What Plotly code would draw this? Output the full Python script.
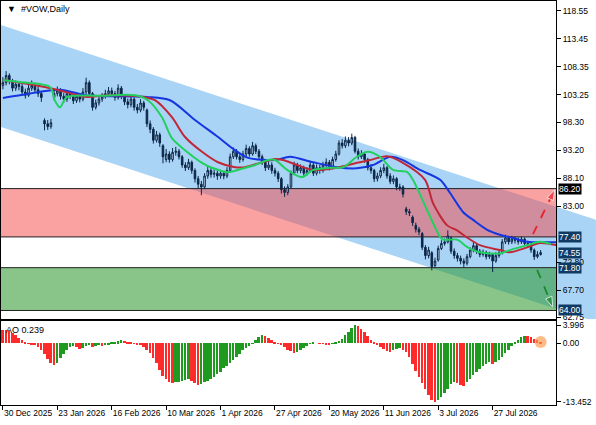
import plotly.graph_objects as go

# --- daily candles, 30 Dec 2025 .. mid Aug 2026 ---
opens = [
    105.0, 105.5, 106.8, 105.8, 104.5, 105.2, 104.8, 103.8, 103.2, 104.5, 105.0, 104.2, 103.5, 98.6, 98.0, 97.5, 102.8,
    103.5, 104.0, 103.0, 102.5, 103.5, 103.0, 102.2, 103.0, 102.5, 103.8, 105.5, 103.5, 101.0, 101.8, 102.5, 103.0, 103.5,
    104.0, 103.5, 102.8, 104.5, 103.0, 102.0, 101.5, 102.5, 101.0, 100.5, 101.8, 100.5, 98.0, 97.0, 95.0, 96.0, 94.0,
    91.5, 92.5, 91.5, 92.8, 93.0, 92.0, 90.5, 90.0, 91.0, 89.5, 88.0, 87.0, 86.5, 88.5, 89.5, 88.8, 89.0,
    88.5, 89.0, 88.5, 89.5, 92.0, 93.0, 92.0, 91.5, 92.5, 93.5, 92.5, 94.0, 93.0, 92.0, 91.0, 90.0, 90.5,
    89.5, 89.0, 88.0, 86.0, 85.5, 86.5, 89.0, 90.5, 89.5, 90.0, 89.0, 89.5, 90.5, 89.0, 90.0, 89.5, 90.5,
    91.0, 90.0, 91.5, 92.5, 94.5, 94.0, 95.0, 94.5, 95.5, 93.0, 92.0, 92.5, 91.5, 90.0, 89.5, 88.0, 88.5,
    89.5, 90.0, 88.5, 87.5, 88.0, 86.5, 86.5, 82.5, 82.0, 81.0, 79.5, 78.8, 78.0, 75.5, 74.0, 74.5, 72.2,
    73.2, 75.3, 76.2, 76.5, 77.2, 74.8, 74.0, 73.5, 73.0, 72.6, 73.8, 75.0, 75.8, 74.8, 74.2, 74.6, 73.8,
    74.2, 73.0, 74.0, 74.5, 76.5, 77.2, 76.5, 77.0, 76.8, 76.5, 77.0, 76.2, 76.0, 75.0, 73.8, 74.2,
]
highs = [
    106.5, 107.6, 107.2, 106.2, 105.9, 105.8, 105.3, 104.4, 105.2, 105.9, 105.5, 104.8, 104.0, 99.0, 98.7, 98.9, 104.2,
    104.8, 104.5, 103.6, 104.1, 104.0, 103.4, 103.7, 103.5, 104.5, 106.4, 105.9, 103.8, 102.4, 103.1, 103.6, 104.2, 104.7,
    104.6, 104.0, 105.2, 104.9, 103.4, 102.6, 103.1, 102.8, 101.6, 102.5, 102.2, 100.8, 98.6, 97.4, 96.7, 96.4, 94.3,
    93.4, 93.0, 93.6, 93.8, 93.4, 92.3, 91.0, 91.6, 91.3, 89.9, 88.5, 87.6, 89.0, 90.2, 90.0, 89.7, 89.5,
    89.6, 89.4, 90.1, 92.6, 93.7, 93.4, 92.5, 93.1, 94.2, 93.9, 94.7, 94.4, 93.4, 92.4, 91.5, 91.2, 91.0,
    90.0, 89.4, 88.3, 86.6, 87.0, 89.5, 91.1, 90.9, 90.6, 90.4, 90.1, 91.1, 90.9, 90.6, 90.5, 91.1, 91.7,
    91.4, 92.0, 93.1, 95.0, 95.2, 95.7, 95.6, 96.2, 95.8, 93.5, 93.2, 92.9, 91.8, 90.6, 89.8, 89.1, 90.1,
    90.7, 90.3, 89.0, 88.6, 88.3, 87.1, 86.8, 82.9, 82.5, 81.3, 80.0, 79.2, 78.3, 75.9, 75.6, 74.8, 73.6,
    75.8, 76.8, 77.1, 78.6, 77.5, 75.3, 74.5, 74.0, 73.5, 74.3, 75.5, 76.4, 76.1, 75.2, 75.1, 74.9, 74.7,
    74.5, 74.6, 75.1, 77.0, 77.8, 77.6, 77.6, 77.5, 77.3, 77.5, 77.3, 76.7, 76.3, 75.3, 74.8, 75.0,
]
lows = [
    104.3, 105.0, 105.2, 103.9, 104.0, 104.1, 103.2, 102.6, 102.9, 104.0, 103.6, 102.9, 102.0, 96.8, 96.9, 97.1, 102.3,
    103.0, 102.4, 101.8, 102.0, 102.5, 101.6, 101.8, 101.9, 102.1, 103.4, 103.0, 100.4, 100.6, 101.3, 102.0, 102.6, 103.0,
    102.9, 102.2, 102.4, 102.5, 101.4, 100.8, 101.0, 100.4, 99.9, 100.1, 100.4, 97.4, 96.3, 94.4, 94.6, 93.8, 90.8,
    91.0, 90.9, 91.1, 92.2, 91.5, 90.0, 89.4, 89.6, 88.9, 87.3, 86.3, 85.0, 86.1, 88.0, 88.2, 88.2, 87.8,
    88.0, 87.9, 88.1, 89.2, 91.6, 91.5, 90.9, 91.1, 92.1, 92.0, 92.2, 92.5, 91.5, 90.5, 89.4, 89.6, 88.9,
    88.4, 87.4, 85.3, 84.7, 85.0, 86.2, 88.7, 89.0, 89.0, 88.5, 88.6, 89.1, 88.5, 88.6, 88.9, 89.1, 90.1,
    89.5, 89.7, 91.1, 92.2, 93.5, 93.6, 93.9, 94.1, 92.6, 91.5, 91.6, 90.9, 89.5, 88.9, 87.4, 87.5, 88.1,
    89.0, 88.0, 87.0, 87.0, 85.9, 85.8, 84.6, 81.4, 81.2, 79.4, 78.2, 77.7, 75.0, 73.3, 73.5, 71.3, 71.8,
    72.9, 75.0, 75.8, 76.2, 74.3, 73.4, 72.9, 72.4, 71.9, 72.2, 73.5, 74.6, 74.3, 73.7, 73.8, 73.3, 73.4,
    71.0, 72.7, 73.6, 74.2, 76.1, 76.0, 76.1, 76.2, 76.0, 76.1, 75.8, 75.5, 74.5, 73.2, 73.5, 74.0,
]
closes = [
    105.5, 106.8, 105.8, 104.5, 105.2, 104.8, 103.8, 103.2, 104.5, 105.0, 104.2, 103.5, 102.8, 98.0, 97.5, 98.2, 103.5,
    104.0, 103.0, 102.5, 103.5, 103.0, 102.2, 103.0, 102.5, 103.8, 105.5, 103.5, 101.0, 101.8, 102.5, 103.0, 103.5, 104.0,
    103.5, 102.8, 104.5, 103.0, 102.0, 101.5, 102.5, 101.0, 100.5, 101.8, 101.0, 98.0, 97.0, 95.0, 96.0, 94.5, 92.0,
    92.5, 91.5, 92.8, 93.0, 92.0, 90.5, 90.0, 91.0, 89.5, 88.0, 87.0, 86.5, 88.5, 89.5, 88.8, 89.0, 88.5,
    89.0, 88.5, 89.5, 92.0, 93.0, 92.0, 91.5, 92.5, 93.5, 92.5, 94.0, 93.0, 92.0, 91.0, 90.0, 90.5, 89.5,
    89.0, 88.0, 86.0, 85.5, 86.5, 89.0, 90.5, 89.5, 90.0, 89.0, 89.5, 90.5, 89.0, 90.0, 89.5, 90.5, 91.0,
    90.0, 91.5, 92.5, 94.5, 94.0, 95.0, 94.5, 95.5, 93.0, 92.0, 92.5, 91.5, 90.0, 89.5, 88.0, 88.5, 89.5,
    90.0, 88.5, 87.5, 88.0, 86.5, 86.3, 85.2, 82.0, 81.8, 80.0, 78.8, 78.3, 75.5, 74.0, 75.0, 72.0, 73.0,
    75.3, 76.2, 76.5, 77.6, 74.8, 74.0, 73.5, 73.0, 72.6, 73.8, 75.0, 75.8, 74.8, 74.2, 74.6, 73.8, 74.2,
    73.0, 74.0, 74.5, 76.5, 77.2, 76.5, 77.0, 76.8, 76.5, 77.0, 76.2, 76.0, 75.0, 73.8, 74.2, 74.55,
]

# Awesome Oscillator per bar
ao_values = [
    3.0, 2.9, 2.7, 2.3, 1.8, 1.2, 0.6, 0.1, -0.2, -0.4, -0.5, -0.9, -1.6, -2.6, -3.6, -4.5, -5.0,
    -4.6, -3.5, -2.4, -1.5, -1.0, -0.6, -0.9, -1.3, -1.2, -0.7, -0.5, -0.8, -0.6, -0.4, -0.7, -0.5, -0.3,
    0.1, 0.3, 0.4, 0.6, 0.5, 0.3, 0.1, -0.1, -0.3, -0.5, -0.8, -1.5, -2.3, -3.4, -4.6, -6.2, -7.6, -8.3, -8.8, -9.2,
    -9.0, -8.8, -8.6, -8.4, -8.3, -8.6, -9.1, -9.5,
    -9.3, -9.0, -8.6, -8.2, -7.7, -7.1, -6.5, -5.8, -5.2, -4.5, -3.8, -3.1, -2.4, -1.7, -1.1, -0.6, -0.1,
    0.6, 1.3, 1.9, 1.7, 1.2, 0.7, 0.3, -0.1, -0.5, -1.0, -1.5, -1.9, -2.3, -2.1, -1.6, -1.1, -0.6, -0.2,
    0.1, 0.0, -0.1, -0.2, -0.3, -0.35, -0.2, 0.1, 0.5, 1.0, 1.8, 2.6, 3.4, 3.996, 3.8, 3.2, 2.4, 1.6,
    0.8, 0.2, -0.4, -0.9, -1.4, -1.9, -2.0, -1.7, -1.4, -1.2,
    -1.5, -2.0, -3.2, -4.8, -6.3, -7.7, -9.2, -10.6, -11.8, -12.9, -13.452,
    -13.1, -12.4, -11.4, -10.4, -9.4, -9.0, -9.2, -9.5, -9.8,
    -9.0, -8.2, -7.4, -6.6, -5.9, -5.3, -4.7, -4.3, -4.7,
    -4.4, -3.9, -3.1, -2.3, -1.5, -0.6, 0.2, 0.8, 1.3, 1.6, 1.5, 1.3, 1.0, 0.6, 0.239,
]

# Alligator lines (already shifted forward), sampled along the chart
jaw_x = [0, 5.3, 17.8, 26, 45, 52.2, 60, 67.2, 72.5, 76.6, 85, 89.7, 96.9, 104.4, 110.6, 115.6, 121, 125,
         130.3, 136.6, 139.7, 143.8, 146.9, 151.3, 155.3, 159.4, 163.8, 176]
jaw_y = [102.7, 103.2, 104.2, 103.2, 102.9, 102.3, 98.7, 95.6, 93.2, 91.8, 91.4, 92.0, 91.0, 90.1, 89.9, 90.5, 92.0, 91.4,
         89.6, 87.8, 85.4, 81.9, 80.5, 78.7, 77.8, 77.2, 76.5, 76.5]
teeth_x = [0, 9.4, 16.9, 26.2, 32.5, 43.8, 47.5, 52.8, 56.9, 62.2, 67.2, 72.5, 75.6, 81, 85, 87.5, 91.9, 96.9,
           104.4, 110.6, 114.7, 120, 125, 131.9, 134.4, 138.8, 141.9, 145, 149, 155.3, 158.4, 163.8, 167.8, 173]
teeth_y = [106.0, 105.1, 104.2, 102.9, 103.2, 102.9, 102.3, 99.2, 95.6, 92.9, 91.0, 90.1, 90.1, 91.0, 91.6, 91.4, 90.5, 89.6,
           90.0, 90.9, 91.4, 92.1, 90.9, 87.8, 83.5, 79.5, 78.6, 77.3, 75.9, 75.0, 74.6, 75.5, 76.3, 75.9]
lips_x = [0, 5.3, 14.7, 16.2, 17.8, 20, 30.3, 41.3, 45.3, 49.7, 52.8, 56.9, 62.2, 65.3, 70.3, 74.7, 78.8, 82.8, 85,
          88.8, 93.4, 96.9, 102.2, 106.3, 110.6, 114, 117.8, 121.9, 126.3, 128.1, 132.5, 136.6, 137.5, 141.9, 145,
          149, 155.3, 158.4, 163.8, 167.8, 171.2]
lips_y = [106.0, 105.6, 104.7, 102.3, 101.0, 102.9, 103.1, 103.2, 102.3, 99.2, 95.4, 93.2, 90.9, 90.0, 89.2, 89.8, 90.5,
          91.4, 91.4, 89.6, 88.3, 89.6, 90.0, 90.1, 92.0, 92.9, 92.0, 89.6, 89.2, 87.8, 82.3, 77.4, 76.9, 76.9, 75.6,
          74.6, 74.4, 75.0, 75.9, 76.5, 76.1]

tick_bars = [0, 17, 34, 51, 68, 85, 102, 119, 136, 153]
tick_dates = ["30 Dec 2025", "23 Jan 2026", "16 Feb 2026", "10 Mar 2026", "1 Apr 2026",
              "27 Apr 2026", "20 May 2026", "11 Jun 2026", "3 Jul 2026", "27 Jul 2026"]
price_ticks = [118.55, 113.45, 108.35, 103.25, 98.30, 93.20, 88.10, 83.00, 72.80, 67.70, 62.75]
ao_ticks = [3.996, 0.0, -13.452]
ao_tick_text = ["3.996", "0.00", "-13.452"]

sell_zone = (86.20, 77.40)
buy_zone = (71.80, 64.00)
level_lines = [86.20, 77.40, 71.80, 64.00]
marked_levels = [86.20, 77.40, 74.55, 71.80, 64.00]

n = len(closes)
bars = list(range(n))

X_RANGE = [-0.6, 172.8]
Y_RANGE = [62.45, 120.37]
AO_RANGE = [-14.14, 5.02]
MAIN_DOM = [0.2129, 1.0]
AO_DOM = [0.0, 0.2079]
FONT = "Liberation Sans, Arial, DejaVu Sans"


def to_paper(bar, price):
    px = (bar - X_RANGE[0]) / (X_RANGE[1] - X_RANGE[0])
    py = MAIN_DOM[0] + (price - Y_RANGE[0]) / (Y_RANGE[1] - Y_RANGE[0]) * (MAIN_DOM[1] - MAIN_DOM[0])
    return px, py


fig = go.Figure()

fig.add_trace(go.Candlestick(
    x=bars, open=opens, high=highs, low=lows, close=closes,
    increasing=dict(line=dict(color="#0b2748", width=1), fillcolor="#d6e4f2"),
    decreasing=dict(line=dict(color="#0b2748", width=1), fillcolor="#0b2748"),
    whiskerwidth=0, xaxis="x", yaxis="y", showlegend=False,
))

for xs, ys, col in [(jaw_x, jaw_y, "#1535e0"), (teeth_x, teeth_y, "#c02838"), (lips_x, lips_y, "#22d060")]:
    fig.add_trace(go.Scatter(
        x=xs, y=ys, mode="lines", line=dict(color=col, width=2, shape="spline", smoothing=0.8),
        xaxis="x", yaxis="y", showlegend=False, hoverinfo="skip",
    ))

# dashed target arrows
fig.add_trace(go.Scatter(
    x=[165.6, 172.4], y=[77.9, 86.0], mode="lines+markers",
    line=dict(color="#e8202a", width=1.8, dash="dash"),
    marker=dict(symbol="arrow", size=[0, 11], angleref="previous", color="#e8202a"),
    xaxis="x", yaxis="y", showlegend=False, hoverinfo="skip", cliponaxis=False,
))
fig.add_trace(go.Scatter(
    x=[166.9, 171.8], y=[71.4, 64.6], mode="lines+markers",
    line=dict(color="#1a8a2a", width=1.8, dash="dash"),
    marker=dict(symbol="arrow", size=[0, 11], angleref="previous", color="#1a8a2a"),
    xaxis="x", yaxis="y", showlegend=False, hoverinfo="skip", cliponaxis=False,
))

# AO histogram
ao_colors = ["#ff2a2a"] + ["#1e9a1e" if ao_values[i] > ao_values[i - 1] else "#ff2a2a" for i in range(1, n)]
fig.add_trace(go.Bar(
    x=bars, y=ao_values, marker=dict(color=ao_colors, line=dict(width=0)), width=0.62,
    xaxis="x2", yaxis="y2", showlegend=False, hoverinfo="skip",
))
fig.add_trace(go.Scatter(
    x=[bars[-1]], y=[ao_values[-1]], mode="markers",
    marker=dict(size=12, color="rgba(255,150,70,0.65)"),
    xaxis="x2", yaxis="y2", showlegend=False, hoverinfo="skip",
))

# channel (extends into the price-scale margin like the original)
x_left, x_right = X_RANGE[0], X_RANGE[0] + (X_RANGE[1] - X_RANGE[0]) * 1.072
slope = (82.9 - 116.0) / (X_RANGE[1] - X_RANGE[0])
up_l, up_r = 116.0, 116.0 + slope * (x_right - x_left)
lo_l, lo_r = 97.4, 97.4 + slope * (x_right - x_left)
p1 = to_paper(x_left, up_l)
p2 = to_paper(x_right, up_r)
p3 = to_paper(x_right, max(lo_r, Y_RANGE[0]))
x_cut = x_left + (Y_RANGE[0] - lo_l) / slope
p4 = to_paper(x_cut, Y_RANGE[0])
p5 = to_paper(x_left, lo_l)
path = "M {} {} L {} {} L {} {} L {} {} L {} {} Z".format(
    p1[0], p1[1], p2[0], p2[1], p3[0], p3[1], p4[0], p4[1], p5[0], p5[1])
fig.add_shape(type="path", path=path, xref="paper", yref="paper", layer="below",
              fillcolor="rgb(170,212,246)", line=dict(width=0))

fig.add_shape(type="rect", xref="x domain", yref="y", x0=0, x1=1, y0=sell_zone[1], y1=sell_zone[0],
              fillcolor="rgba(245,70,70,0.5)", line=dict(width=0), layer="below")
fig.add_shape(type="rect", xref="x domain", yref="y", x0=0, x1=1, y0=buy_zone[1], y1=buy_zone[0],
              fillcolor="rgba(40,150,40,0.55)", line=dict(width=0), layer="below")
for lv in level_lines:
    fig.add_shape(type="line", xref="x domain", yref="y", x0=0, x1=1, y0=lv, y1=lv,
                  line=dict(color="#202020", width=1), layer="below")

# highlighted price labels on the right scale
for lv in marked_levels:
    bg = "#000000" if lv == 86.20 else "#0e3a64"
    fig.add_annotation(x=1.004, xref="paper", y=lv, yref="y", text="{:.2f}".format(lv),
                       showarrow=False, xanchor="left", yanchor="middle",
                       bgcolor=bg, font=dict(color="white", size=8.5, family=FONT),
                       borderpad=0)

fig.add_annotation(x=0.008, y=0.997, xref="paper", yref="paper", text="▼  #VOW,Daily",
                   showarrow=False, xanchor="left", yanchor="top",
                   font=dict(size=9, color="black", family=FONT))
fig.add_annotation(x=0.006, y=AO_DOM[1] - 0.004, xref="paper", yref="paper", text="AO 0.239",
                   showarrow=False, xanchor="left", yanchor="top",
                   font=dict(size=9, color="black", family=FONT))

axis_common = dict(showgrid=False, zeroline=False, showline=True, linecolor="black", linewidth=1,
                   mirror=True, automargin=False, tickangle=0,
                   tickfont=dict(size=8.5, color="black", family=FONT))

fig.update_layout(
    width=596, height=425,
    margin=dict(l=1, r=40, t=1, b=20),
    paper_bgcolor="white", plot_bgcolor="white",
    showlegend=False, bargap=0,
    xaxis=dict(domain=[0, 1], anchor="y", range=X_RANGE, showticklabels=False, ticks="",
               rangeslider=dict(visible=False), **axis_common),
    yaxis=dict(domain=MAIN_DOM, anchor="x", side="right", range=Y_RANGE, tickvals=price_ticks,
               ticktext=["{:.2f}".format(v) for v in price_ticks], ticks="outside", ticklen=4,
               tickcolor="black", **axis_common),
    xaxis2=dict(domain=[0, 1], anchor="y2", range=X_RANGE, matches="x", tickvals=tick_bars,
                ticktext=tick_dates, ticks="outside", ticklen=4, tickcolor="black",
                ticklabelposition="outside right", **axis_common),
    yaxis2=dict(domain=AO_DOM, anchor="x2", side="right", range=AO_RANGE, tickvals=ao_ticks,
                ticktext=ao_tick_text, ticks="outside", ticklen=4, tickcolor="black", **axis_common),
)

# the page body has a default 8px margin; drop it so the chart fills the window
fig.write_html("out.html", config={"displayModeBar": False},
               post_script="document.body.style.margin='0';")
